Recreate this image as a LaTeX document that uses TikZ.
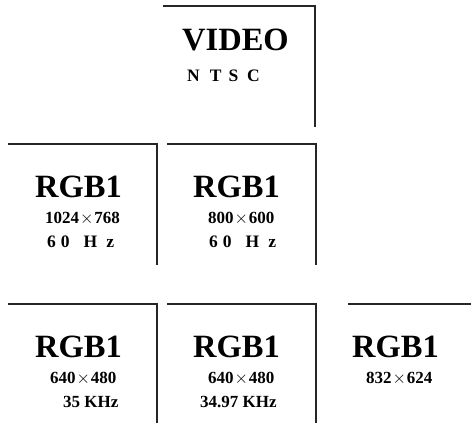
\documentclass[tikz,border=0pt]{standalone}
\usepackage{fontspec}
\setmainfont{Liberation Serif}
\begin{document}
\begin{tikzpicture}[x=1pt,y=-1pt,
  frame/.style={line width=1.2pt,draw=black!85},
  big/.style={inner sep=0pt,anchor=base west,font=\bfseries\fontsize{32.5}{36}\selectfont},
  small/.style={inner sep=0pt,anchor=base west,font=\bfseries\fontsize{17}{19}\selectfont},
  spaced/.style={inner sep=0pt,anchor=base west,font=\bfseries\fontsize{17.5}{19}\selectfont}]
\useasboundingbox (0,0) rectangle (471,423);
\newcommand{\tms}{\kern0.9pt$\times$\kern0.9pt}
% frames
\draw[frame] (163,6) -- (315,6) -- (315,127);
\draw[frame] (8,144) -- (157,144) -- (157,265);
\draw[frame] (167,144) -- (316,144) -- (316,265);
\draw[frame] (8,304) -- (157,304) -- (157,423);
\draw[frame] (167,304) -- (316,304) -- (316,423);
\draw[frame] (348,304) -- (471,304);
% top box
\node[big] (video) at (182,50) {VIDEO};
\node[spaced] (ntsc) at (187,81) {N\kern10pt T\kern7pt S\kern9pt C};
% row 2
\node[big] (a1) at (35,197) {RGB1};
\node[small] (a2) at (45,223) {1024\tms768};
\node[spaced] (a3) at (47,247) {6\kern5pt0\kern14pt H\kern9pt z};
\node[big] (b1) at (193,197) {RGB1};
\node[small] (b2) at (208,223) {800\tms600};
\node[spaced] (b3) at (209,247) {6\kern5pt0\kern14pt H\kern9pt z};
% row 3
\node[big] (c1) at (35,357) {RGB1};
\node[small] (c2) at (50,383) {640\tms480};
\node[small] (c3) at (63,407) {35 KHz};
\node[big] (d1) at (193,357) {RGB1};
\node[small] (d2) at (208,383) {640\tms480};
\node[small] (d3) at (200,407) {34.97 KHz};
\node[big] (e1) at (352,357) {RGB1};
\node[small] (e2) at (366,383) {832\tms624};
\end{tikzpicture}
\end{document}
